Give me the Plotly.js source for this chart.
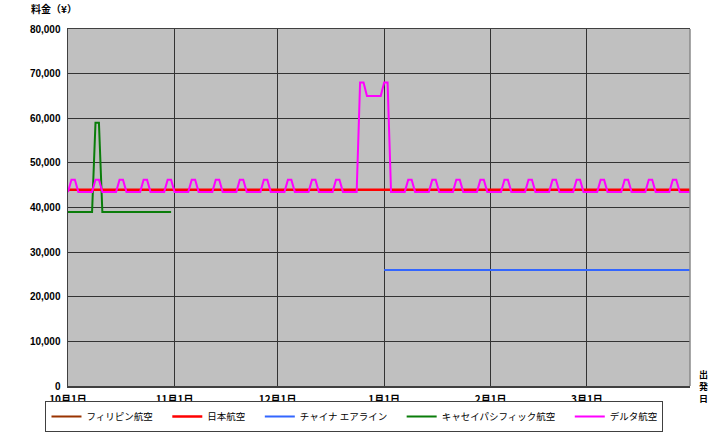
<!DOCTYPE html>
<html>
<head>
<meta charset="utf-8">
<script src="https://cdn.plot.ly/plotly-3.0.1.min.js"></script>
<style>
  html, body { margin: 0; padding: 0; background: #ffffff; }
  #chart { width: 710px; height: 433px; }
</style>
</head>
<body>
<div id="chart"></div>
<script>
// ---- Data ----
const startDate = '2010-10-01';   // first departure date (daily series)
const dayCount = 182;              // 2010-10-01 .. 2011-03-31

const tickDates = ['2010-10-01', '2010-11-01', '2010-12-01', '2011-01-01', '2011-02-01', '2011-03-01'];
const tickLabels = ['10月1日', '11月1日', '12月1日', '1月1日', '2月1日', '3月1日'];

const seriesNames = ['フィリピン航空', '日本航空', 'チャイナ エアライン', 'キャセイパシフィック航空', 'デルタ航空'];

// フィリピン航空: no fares shown
const philippine = [null];

// 日本航空: Oct 1 - Mar 31
const jal = [
  44000,44000,44000,44000,44000,44000,44000,44000,44000,44000,44000,44000,44000,44000,44000,44000,44000,44000,44000,44000,44000,44000,44000,44000,44000,44000,44000,44000,44000,44000,44000,
  44000,44000,44000,44000,44000,44000,44000,44000,44000,44000,44000,44000,44000,44000,44000,44000,44000,44000,44000,44000,44000,44000,44000,44000,44000,44000,44000,44000,44000,44000,
  44000,44000,44000,44000,44000,44000,44000,44000,44000,44000,44000,44000,44000,44000,44000,44000,44000,44000,44000,44000,44000,44000,44000,44000,44000,44000,44000,44000,44000,44000,44000,
  44000,44000,44000,44000,44000,44000,44000,44000,44000,44000,44000,44000,44000,44000,44000,44000,44000,44000,44000,44000,44000,44000,44000,44000,44000,44000,44000,44000,44000,44000,44000,
  44000,44000,44000,44000,44000,44000,44000,44000,44000,44000,44000,44000,44000,44000,44000,44000,44000,44000,44000,44000,44000,44000,44000,44000,44000,44000,44000,44000,
  44000,44000,44000,44000,44000,44000,44000,44000,44000,44000,44000,44000,44000,44000,44000,44000,44000,44000,44000,44000,44000,44000,44000,44000,44000,44000,44000,44000,44000,44000,44000
];

// チャイナ エアライン: Jan 1 - Mar 31
const chinaStart = 92; // day index of 2011-01-01
const china = [
  26000,26000,26000,26000,26000,26000,26000,26000,26000,26000,26000,26000,26000,26000,26000,26000,26000,26000,26000,26000,26000,26000,26000,26000,26000,26000,26000,26000,26000,26000,26000,
  26000,26000,26000,26000,26000,26000,26000,26000,26000,26000,26000,26000,26000,26000,26000,26000,26000,26000,26000,26000,26000,26000,26000,26000,26000,26000,26000,26000,
  26000,26000,26000,26000,26000,26000,26000,26000,26000,26000,26000,26000,26000,26000,26000,26000,26000,26000,26000,26000,26000,26000,26000,26000,26000,26000,26000,26000,26000,26000,26000
];

// キャセイパシフィック航空: Oct 1 - Oct 31
const cathay = [
  39000,39000,39000,39000,39000,39000,39000,39000,59000,59000,39000,39000,39000,39000,39000,39000,
  39000,39000,39000,39000,39000,39000,39000,39000,39000,39000,39000,39000,39000,39000,39000
];

// デルタ航空: Oct 1 - Mar 31
const delta = [
  // Oct
  43500,46200,46200,43500,43500,43500,43500,43500,46200,46200,43500,43500,43500,43500,43500,46200,46200,43500,43500,43500,43500,43500,46200,46200,43500,43500,43500,43500,43500,46200,46200,
  // Nov
  43500,43500,43500,43500,43500,46200,46200,43500,43500,43500,43500,43500,46200,46200,43500,43500,43500,43500,43500,46200,46200,43500,43500,43500,43500,43500,46200,46200,43500,43500,
  // Dec
  43500,43500,43500,46200,46200,43500,43500,43500,43500,43500,46200,46200,43500,43500,43500,43500,43500,46200,46200,43500,43500,43500,43500,43500,68000,68000,65000,65000,65000,65000,65000,
  // Jan
  68000,68000,43500,43500,43500,43500,43500,46200,46200,43500,43500,43500,43500,43500,46200,46200,43500,43500,43500,43500,43500,46200,46200,43500,43500,43500,43500,43500,46200,46200,43500,
  // Feb
  43500,43500,43500,43500,46200,46200,43500,43500,43500,43500,43500,46200,46200,43500,43500,43500,43500,43500,46200,46200,43500,43500,43500,43500,43500,46200,46200,43500,
  // Mar
  43500,43500,43500,43500,46200,46200,43500,43500,43500,43500,43500,46200,46200,43500,43500,43500,43500,43500,46200,46200,43500,43500,43500,43500,43500,46200,46200,43500,43500,43500,43500
];

const seriesColors = ['#993300', '#FF0000', '#3366FF', '#0A7D0A', '#FF00FF'];

// ---- Build date axis values ----
function dayString(i) {
  const d = new Date(startDate + 'T00:00:00Z');
  d.setUTCDate(d.getUTCDate() + i);
  return d.toISOString().slice(0, 10);
}
const dates = [];
for (let i = 0; i < dayCount; i++) dates.push(dayString(i));

const gap = '\u3000'; // ideographic space between legend entries
const traces = [
  { name: seriesNames[0] + gap, x: dates.slice(0, philippine.length), y: philippine, color: seriesColors[0], w: 2, rank: 1 },
  { name: seriesNames[1] + gap, x: dates.slice(0, jal.length), y: jal, color: seriesColors[1], w: 2.5, rank: 2 },
  { name: seriesNames[2] + gap, x: dates.slice(chinaStart, chinaStart + china.length), y: china, color: seriesColors[2], w: 2, rank: 3 },
  { name: seriesNames[3] + gap, x: dates.slice(0, cathay.length), y: cathay, color: seriesColors[3], w: 2, rank: 4 },
  { name: seriesNames[4], x: dates.slice(0, delta.length), y: delta, color: seriesColors[4], w: 2, rank: 5 }
].map(t => ({
  type: 'scatter', mode: 'lines', name: t.name, x: t.x, y: t.y, legendrank: t.rank,
  showlegend: true,
  line: { color: t.color, width: t.w }, hoverinfo: 'skip'
}));

// Draw order: keep JAL under Delta as in reference
const order = [traces[0], traces[2], traces[3], traces[1], traces[4]];

const tickFont = { family: 'Liberation Sans, Arial, sans-serif', size: 10, color: '#000', weight: 700 };
const jpFont = 'Noto Sans CJK JP, sans-serif';

const layout = {
  width: 710, height: 433,
  margin: { l: 68, r: 20, t: 29, b: 47, autoexpand: false },
  paper_bgcolor: '#ffffff',
  plot_bgcolor: '#C0C0C0',
  showlegend: true,
  legend: {
    orientation: 'h',
    x: 0.4606, xanchor: 'center',
    y: -0.042, yanchor: 'top',
    bordercolor: '#404040', borderwidth: 1,
    bgcolor: '#ffffff',
    font: { family: jpFont, size: 9.5, color: '#000' },
    traceorder: 'normal',
    itemwidth: 30
  },
  xaxis: {
    type: 'date',
    range: ['2010-10-01', '2011-03-31'],
    tickvals: tickDates,
    ticktext: tickLabels,
    tickfont: { family: jpFont, size: 10, color: '#000', weight: 700 },
    ticklabelstandoff: 3,
    showgrid: true, gridcolor: '#333333', gridwidth: 1,
    showline: true, linecolor: '#404040', linewidth: 1.5, mirror: true,
    ticks: '', zeroline: false, fixedrange: true
  },
  yaxis: {
    range: [0, 80000],
    tickvals: [0, 10000, 20000, 30000, 40000, 50000, 60000, 70000, 80000],
    tickformat: ',d',
    tickfont: tickFont,
    showgrid: true, gridcolor: '#333333', gridwidth: 1,
    showline: true, linecolor: '#404040', linewidth: 1.5,
    ticks: '', ticklabelstandoff: 4, zeroline: false, fixedrange: true
  },
  shapes: [
    { type: 'line', xref: 'paper', yref: 'paper', x0: 1, x1: 1, y0: 0, y1: 1,
      line: { color: '#8a8a8a', width: 1.5 } }
  ],
  annotations: [
    { text: '料金（¥）', xref: 'paper', yref: 'paper', x: -0.062, y: 1.058,
      xanchor: 'left', yanchor: 'middle', showarrow: false,
      font: { family: jpFont, size: 10, color: '#000', weight: 700 } }
  ].concat(['出', '発', '日'].map((ch, i) => ({
      text: ch, xref: 'paper', yref: 'paper', x: 1.021, y: (386 - (374 + i * 12)) / 357,
      xanchor: 'center', yanchor: 'middle', showarrow: false,
      font: { family: jpFont, size: 9, color: '#000', weight: 700 }
  })))
};

Plotly.newPlot('chart', order, layout, { displayModeBar: false, staticPlot: true });
</script>
</body>
</html>
